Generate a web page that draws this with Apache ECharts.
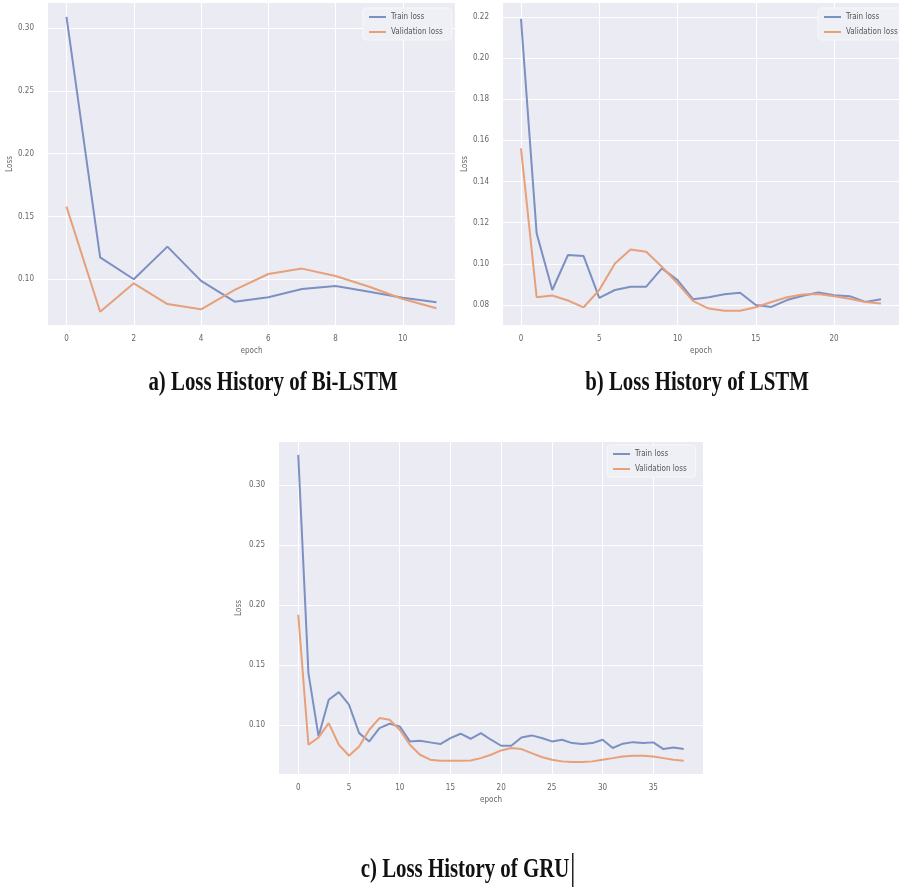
<!DOCTYPE html>
<html>
<head>
<meta charset="utf-8">
<script src="https://cdn.jsdelivr.net/npm/echarts@6/dist/echarts.min.js"></script>
<style>
  html, body { margin: 0; padding: 0; background: #fff; }
  #main { width: 899px; height: 888px; }
</style>
</head>
<body>
<div id="main"></div>
<script>
// loss values
var trainBiLstm = [0.309, 0.1175, 0.100, 0.126, 0.0987, 0.0822, 0.0857, 0.0923, 0.0947, 0.0901, 0.0853, 0.0817];
var valBiLstm = [0.1579, 0.0742, 0.0968, 0.0803, 0.0761, 0.0915, 0.1042, 0.1085, 0.1026, 0.0941, 0.0843, 0.0770];

var trainLstm = [0.219, 0.1148, 0.0873, 0.1043, 0.1038, 0.0835, 0.0873, 0.0889, 0.0889, 0.0978, 0.0921, 0.0828,
  0.0838, 0.0852, 0.0860, 0.0800, 0.0791, 0.0824, 0.0845, 0.0861, 0.0848, 0.0843, 0.0815, 0.0828];
var valLstm = [0.1561, 0.0838, 0.0846, 0.0822, 0.0789, 0.0873, 0.1002, 0.1070, 0.1059, 0.0986, 0.0905, 0.0819,
  0.0783, 0.0772, 0.0772, 0.0789, 0.0815, 0.0838, 0.0851, 0.0854, 0.0843, 0.0830, 0.0815, 0.0808];

var trainGru = [0.325, 0.1435, 0.0909, 0.1213, 0.1277, 0.1172, 0.0936, 0.0867, 0.0978, 0.1014, 0.0992, 0.0867,
  0.0873, 0.0859, 0.0845, 0.0895, 0.0931, 0.0889, 0.0936, 0.0881, 0.0831, 0.0831, 0.0900, 0.0917, 0.0895,
  0.0867, 0.0881, 0.0853, 0.0845, 0.0853, 0.0881, 0.0812, 0.0848, 0.0861, 0.0853, 0.0859, 0.0803, 0.0817, 0.0803];
var valGru = [0.192, 0.0839, 0.0900, 0.1019, 0.0839, 0.0748, 0.0825, 0.0964, 0.1061, 0.1047, 0.0964, 0.0839,
  0.0756, 0.0715, 0.0706, 0.0706, 0.0706, 0.0709, 0.0728, 0.0756, 0.0792, 0.0812, 0.0803, 0.0770, 0.0737,
  0.0715, 0.0701, 0.0695, 0.0695, 0.0701, 0.0715, 0.0728, 0.0742, 0.0748, 0.0748, 0.0742, 0.0728, 0.0715, 0.0706];

var xTicksA = [0, 2, 4, 6, 8, 10];
var xTicksB = [0, 5, 10, 15, 20];
var xTicksC = [0, 5, 10, 15, 20, 25, 30, 35];
var yTicksA = [0.10, 0.15, 0.20, 0.25, 0.30];
var yTicksB = [0.08, 0.10, 0.12, 0.14, 0.16, 0.18, 0.20, 0.22];
var yTicksC = [0.10, 0.15, 0.20, 0.25, 0.30];

var captions = ['a) Loss History of Bi-LSTM', 'b) Loss History of LSTM', 'c) Loss History of GRU'];

var blue = '#7d90c2';
var orange = '#e6a07a';
var tickFont = { color: '#666', fontSize: 8, fontFamily: 'Liberation Sans Narrow, DejaVu Sans Condensed, sans-serif' };

function pairs(arr) {
  return arr.map(function (v, i) { return [i, v]; });
}

function xAxis(idx, min, max, ticks) {
  return {
    type: 'value', gridIndex: idx, min: min, max: max,
    name: 'epoch', nameLocation: 'middle', nameGap: 22,
    nameTextStyle: tickFont,
    axisLine: { show: false },
    axisTick: { show: false, customValues: ticks },
    axisLabel: Object.assign({ customValues: ticks, margin: 10 }, tickFont),
    splitLine: { show: true, lineStyle: { color: '#ffffff', width: 1 } }
  };
}

function yAxis(idx, min, max, ticks, gap) {
  return {
    type: 'value', gridIndex: idx, min: min, max: max,
    name: 'Loss', nameLocation: 'middle', nameGap: gap,
    nameTextStyle: tickFont,
    axisLine: { show: false },
    axisTick: { show: false, customValues: ticks },
    axisLabel: Object.assign({ customValues: ticks, margin: 14, formatter: function (v) { return v.toFixed(2); } }, tickFont),
    splitLine: { show: true, lineStyle: { color: '#ffffff', width: 1 } }
  };
}

function line(name, idx, arr, color) {
  return {
    name: name, type: 'line', xAxisIndex: idx, yAxisIndex: idx,
    data: pairs(arr), symbol: 'none', silent: true,
    lineStyle: { color: color, width: 2 },
    itemStyle: { color: color }
  };
}

function legend(left, top) {
  return {
    orient: 'vertical', left: left, top: top,
    data: ['Train loss', 'Validation loss'],
    icon: 'rect', itemWidth: 17, itemHeight: 2, itemGap: 7,
    padding: [5, 9, 4, 6],
    backgroundColor: '#eef0f6', borderColor: '#f7f7fa', borderWidth: 1, borderRadius: 3,
    textStyle: { color: '#555', fontSize: 8, fontFamily: 'Liberation Sans Narrow, DejaVu Sans Condensed, sans-serif' }
  };
}

function caption(text, x, y, sx) {
  return {
    type: 'text', x: x, y: y, scaleX: sx,
    style: {
      text: text, fill: '#111',
      font: 'bold 28px "Liberation Serif", serif',
      textAlign: 'center', textVerticalAlign: 'middle'
    }
  };
}

var chart = echarts.init(document.getElementById('main'));
chart.setOption({
  backgroundColor: '#ffffff',
  animation: false,
  grid: [
    { left: 48, top: 3, width: 407, height: 322, backgroundColor: '#ebebf3', show: true, borderWidth: 0 },
    { left: 503, top: 3, width: 407, height: 322, backgroundColor: '#ebebf3', show: true, borderWidth: 0 },
    { left: 279, top: 442, width: 424, height: 332, backgroundColor: '#ebebf3', show: true, borderWidth: 0 }
  ],
  xAxis: [
    xAxis(0, -0.55, 11.55, xTicksA),
    xAxis(1, -1.15, 24.15, xTicksB),
    xAxis(2, -1.9, 39.9, xTicksC)
  ],
  yAxis: [
    yAxis(0, 0.0636, 0.320, yTicksA, 34),
    yAxis(1, 0.0703, 0.2267, yTicksB, 32),
    yAxis(2, 0.0596, 0.3357, yTicksC, 36)
  ],
  legend: [legend(363, 8), legend(818, 8), legend(607, 445)],
  series: [
    line('Train loss', 0, trainBiLstm, blue),
    line('Validation loss', 0, valBiLstm, orange),
    line('Train loss', 1, trainLstm, blue),
    line('Validation loss', 1, valLstm, orange),
    line('Train loss', 2, trainGru, blue),
    line('Validation loss', 2, valGru, orange)
  ],
  graphic: [
    caption(captions[0], 273, 383, 0.745),
    caption(captions[1], 697, 383, 0.745),
    caption(captions[2], 465, 870, 0.745),
    { type: 'rect', shape: { x: 572, y: 853, width: 1.5, height: 34 }, style: { fill: '#222' } }
  ]
});
</script>
</body>
</html>
